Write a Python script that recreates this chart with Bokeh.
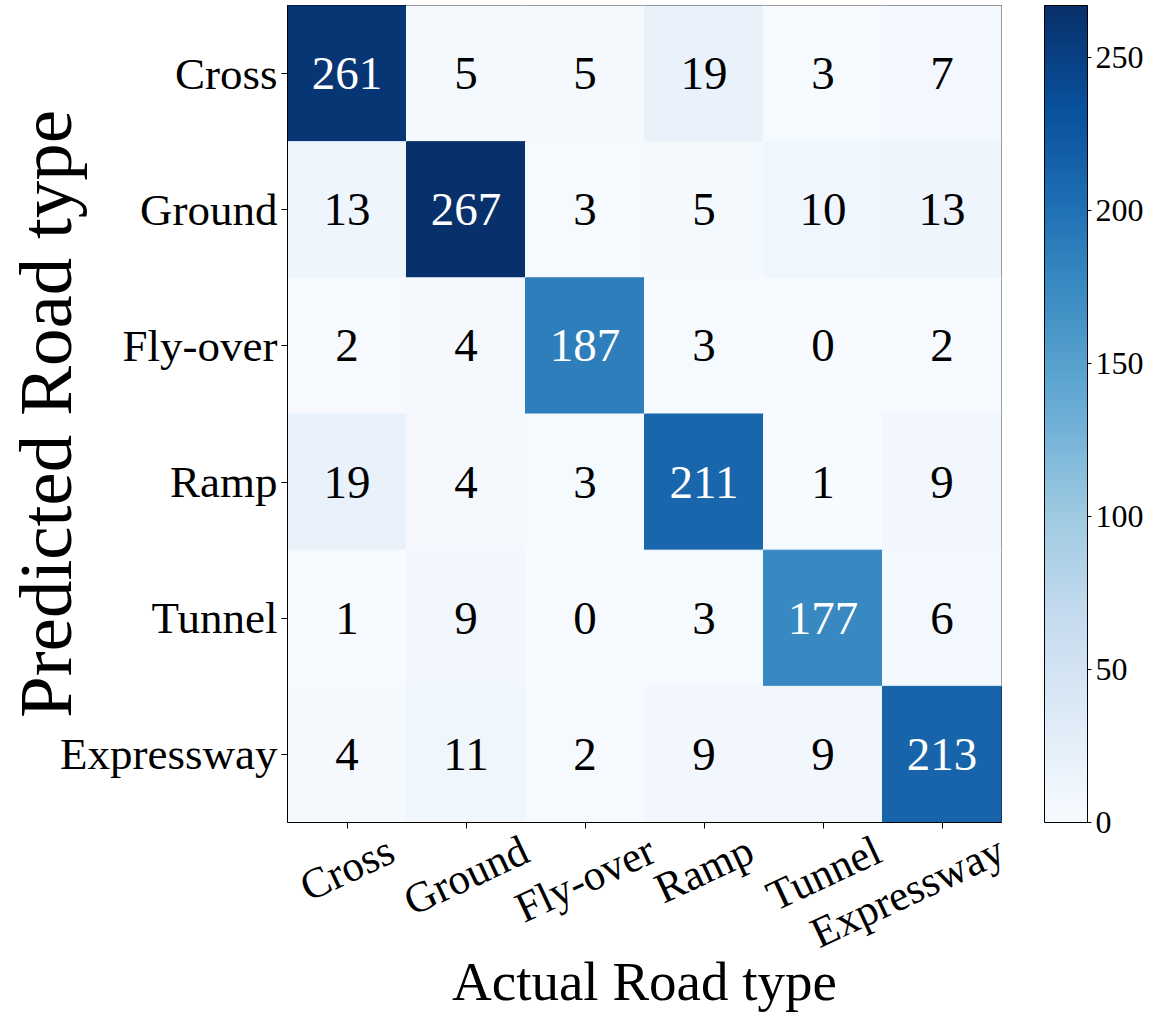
import math
from bokeh.plotting import figure
from bokeh.models import (ColumnDataSource, LinearColorMapper, ColorBar, FixedTicker,
                          Range1d, LinearAxis)
from bokeh.palettes import Blues256
from bokeh.core.properties import value
from bokeh.embed import file_html
from bokeh.resources import INLINE

# ---- data ----
categories = ["Cross", "Ground", "Fly-over", "Ramp", "Tunnel", "Expressway"]
# rows: predicted road type, columns: actual road type
row_cross = [261, 5, 5, 19, 3, 7]
row_ground = [13, 267, 3, 5, 10, 13]
row_flyover = [2, 4, 187, 3, 0, 2]
row_ramp = [19, 4, 3, 211, 1, 9]
row_tunnel = [1, 9, 0, 3, 177, 6]
row_expressway = [4, 11, 2, 9, 9, 213]
colorbar_ticks = [0, 50, 100, 150, 200, 250]
x_title = "Actual Road type"
y_title = "Predicted Road type"

rows = [row_cross, row_ground, row_flyover, row_ramp, row_tunnel, row_expressway]
n = len(categories)
vmax = max(max(r) for r in rows)
vmin = min(min(r) for r in rows)

FONT = "Liberation Serif"
FW, FH = 714, 817
px_x = FW / n   # pixels per data unit (x)

xs, ys, vals, txts, tcols = [], [], [], [], []
for i, r in enumerate(rows):
    for j, v in enumerate(r):
        xs.append(j + 0.5)
        ys.append(i + 0.5)
        vals.append(v)
        txts.append(str(v))
        tcols.append("white" if v > (vmax + vmin) / 2 else "black")
src = ColumnDataSource(dict(x=xs, y=ys, v=vals, t=txts, c=tcols))

mapper = LinearColorMapper(palette=list(reversed(Blues256)), low=vmin, high=vmax)

p = figure(frame_width=FW, frame_height=FH,
           x_range=Range1d(0, n), y_range=Range1d(n, 0),
           output_backend="svg", toolbar_location=None,
           min_border_left=287, min_border_top=5, min_border_bottom=150,
           min_border_right=146)
p.grid.visible = False
p.outline_line_color = "black"
p.outline_line_width = 1

p.rect(x="x", y="y", width=1, height=1, source=src,
       fill_color={"field": "v", "transform": mapper},
       line_color={"field": "v", "transform": mapper}, line_width=1)
p.text(x="x", y="y", text="t", source=src, text_color="c",
       text_align="center", text_baseline="middle",
       text_font=value(FONT), text_font_size="47px")

centers = [k + 0.5 for k in range(n)]

# y axis
ya = p.yaxis[0]
ya.ticker = FixedTicker(ticks=centers)
ya.major_label_overrides = {c: lab for c, lab in zip(centers, categories)}
ya.major_label_text_font = FONT
ya.major_label_text_font_size = "45px"
ya.major_label_text_color = "black"
ya.axis_line_color = "black"
ya.major_tick_line_color = "black"
ya.major_tick_out = 6
ya.major_tick_in = 0
ya.minor_tick_out = 0
ya.minor_tick_in = 0
ya.major_label_standoff = 4
ya.axis_label = y_title
ya.axis_label_text_font = FONT
ya.axis_label_text_font_size = "75px"
ya.axis_label_text_font_style = "normal"
ya.axis_label_text_color = "black"
ya.axis_label_standoff = -30

# x axis: tick marks at the cell centres
xa = p.xaxis[0]
xa.ticker = FixedTicker(ticks=centers)
xa.major_label_overrides = {c: "" for c in centers}
xa.major_label_text_font_size = "1px"
xa.major_label_standoff = 0
xa.axis_line_color = "black"
xa.major_tick_line_color = "black"
xa.major_tick_out = 6
xa.major_tick_in = 0
xa.minor_tick_out = 0
xa.minor_tick_in = 0

# x axis labels, rotated 25 deg; Bokeh right-aligns rotated labels at the tick,
# so shift each label's anchor so the text is centred under its cell
fs = 43
ang = math.radians(25)
em = {"C": 667, "r": 333, "o": 500, "s": 389, "G": 722, "u": 500, "n": 500,
      "d": 500, "F": 556, "l": 278, "y": 500, "-": 333, "v": 500, "e": 444,
      "R": 667, "a": 444, "m": 778, "p": 500, "T": 611, "E": 611, "x": 500, "w": 722}
lab_ticks = []
for c, lab in zip(centers, categories):
    w = sum(em.get(ch, 500) for ch in lab) / 1000 * fs
    lab_ticks.append(round(min(c + (w / 2) * math.cos(ang) / px_x, n - 0.001), 4))

xl = LinearAxis(ticker=FixedTicker(ticks=lab_ticks),
                major_label_overrides={t: lab for t, lab in zip(lab_ticks, categories)},
                major_label_orientation=ang,
                major_label_text_font=FONT, major_label_text_font_size=f"{fs}px",
                major_label_text_color="black", major_label_standoff=19,
                axis_line_color=None, major_tick_line_color=None,
                minor_tick_line_color=None, major_tick_out=0, major_tick_in=0,
                minor_tick_out=0, minor_tick_in=0,
                axis_label=x_title, axis_label_text_font=FONT,
                axis_label_text_font_size="55px", axis_label_text_font_style="normal",
                axis_label_text_color="black", axis_label_standoff=-30)
p.add_layout(xl, "below")

cb = ColorBar(color_mapper=mapper, ticker=FixedTicker(ticks=colorbar_ticks),
              width=43, height=FH, padding=0, margin=0, location=(43, 0),
              bar_line_color="black", major_tick_line_color="black",
              major_tick_in=0, major_tick_out=4,
              major_label_text_font=FONT, major_label_text_font_size="32px",
              major_label_text_color="black",
              label_standoff=4, border_line_color=None, background_fill_color=None)
p.add_layout(cb, "right")

open("out.html", "w").write(file_html(p, INLINE))
